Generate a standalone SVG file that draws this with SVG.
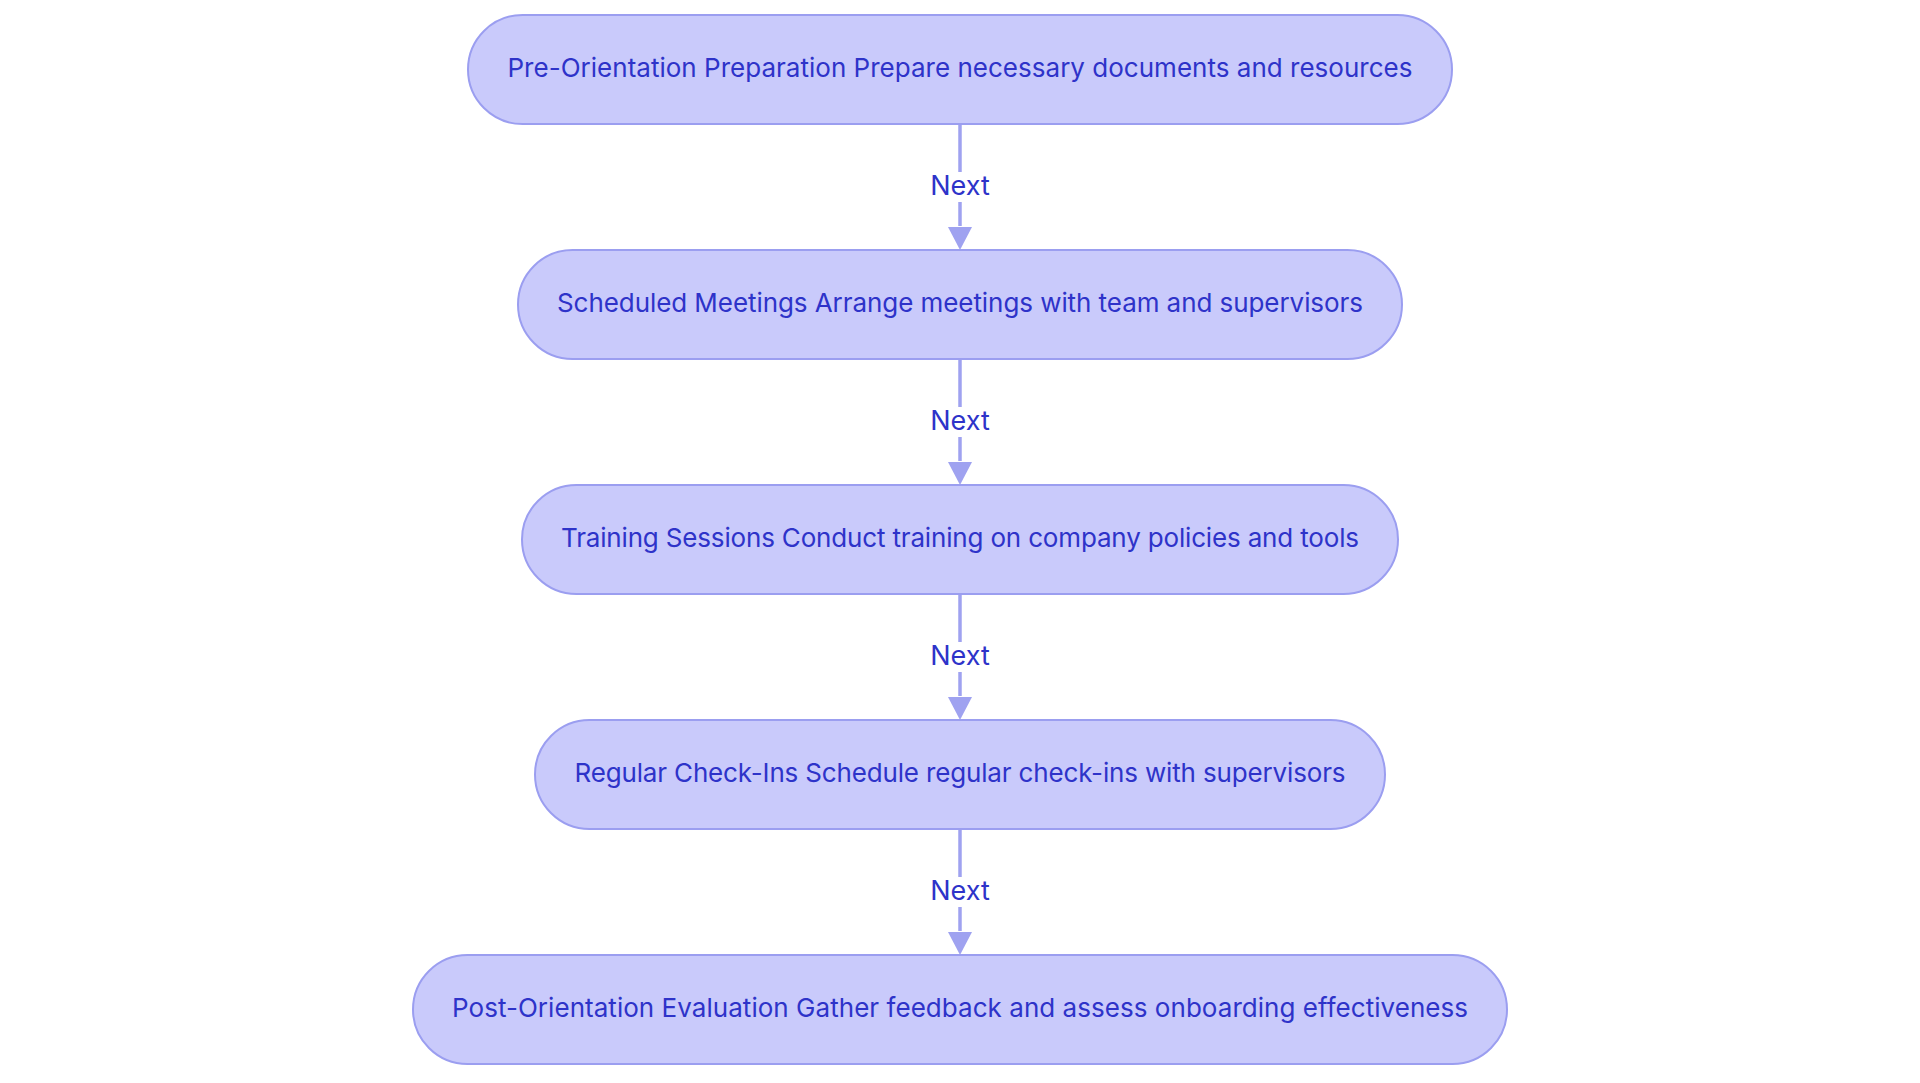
<svg xmlns="http://www.w3.org/2000/svg" width="1920" height="1083" viewBox="0 0 1920 1083">
<defs>
<style>
.node rect{fill:#c9cafb;stroke:#9b9ef0;stroke-width:2}
.node text{font-family:Inter,"Noto Sans",sans-serif;font-size:26px;fill:#2e33c9;text-anchor:middle}
.edge line{stroke:#9fa2f0;stroke-width:3.5}
.elabel rect{fill:#ffffff}
.elabel text{font-family:Inter,"Noto Sans",sans-serif;font-size:27px;fill:#2e33c9;text-anchor:middle}
.ah{fill:#9fa2f0}
</style>
</defs>
<rect width="1920" height="1083" fill="#ffffff"/>
<g id="connectors">
<g class="edge"><line x1="960" y1="124" x2="960" y2="226"/><path class="ah" d="M948,227 L972,227 L960,250 Z"/></g>
<g class="edge"><line x1="960" y1="359" x2="960" y2="461"/><path class="ah" d="M948,462 L972,462 L960,485 Z"/></g>
<g class="edge"><line x1="960" y1="594" x2="960" y2="696"/><path class="ah" d="M948,697 L972,697 L960,720 Z"/></g>
<g class="edge"><line x1="960" y1="829" x2="960" y2="931"/><path class="ah" d="M948,932 L972,932 L960,955 Z"/></g>
<g class="elabel"><rect x="926" y="172" width="68" height="30"/><text x="960" y="195">Next</text></g>
<g class="elabel"><rect x="926" y="407" width="68" height="30"/><text x="960" y="430">Next</text></g>
<g class="elabel"><rect x="926" y="642" width="68" height="30"/><text x="960" y="665">Next</text></g>
<g class="elabel"><rect x="926" y="877" width="68" height="30"/><text x="960" y="900">Next</text></g>
</g>
<g id="node1" class="node"><rect x="468" y="15" width="984" height="109" rx="54.5"/><text x="960" y="77" textLength="905" lengthAdjust="spacing">Pre-Orientation Preparation Prepare necessary documents and resources</text></g>
<g id="node2" class="node"><rect x="518" y="250" width="884" height="109" rx="54.5"/><text x="960" y="312" textLength="806" lengthAdjust="spacing">Scheduled Meetings Arrange meetings with team and supervisors</text></g>
<g id="node3" class="node"><rect x="522" y="485" width="876" height="109" rx="54.5"/><text x="960" y="547" textLength="798" lengthAdjust="spacing">Training Sessions Conduct training on company policies and tools</text></g>
<g id="node4" class="node"><rect x="535" y="720" width="850" height="109" rx="54.5"/><text x="960" y="782" textLength="771" lengthAdjust="spacing">Regular Check-Ins Schedule regular check-ins with supervisors</text></g>
<g id="node5" class="node"><rect x="413" y="955" width="1094" height="109" rx="54.5"/><text x="960" y="1017" textLength="1016" lengthAdjust="spacing">Post-Orientation Evaluation Gather feedback and assess onboarding effectiveness</text></g>
</svg>
